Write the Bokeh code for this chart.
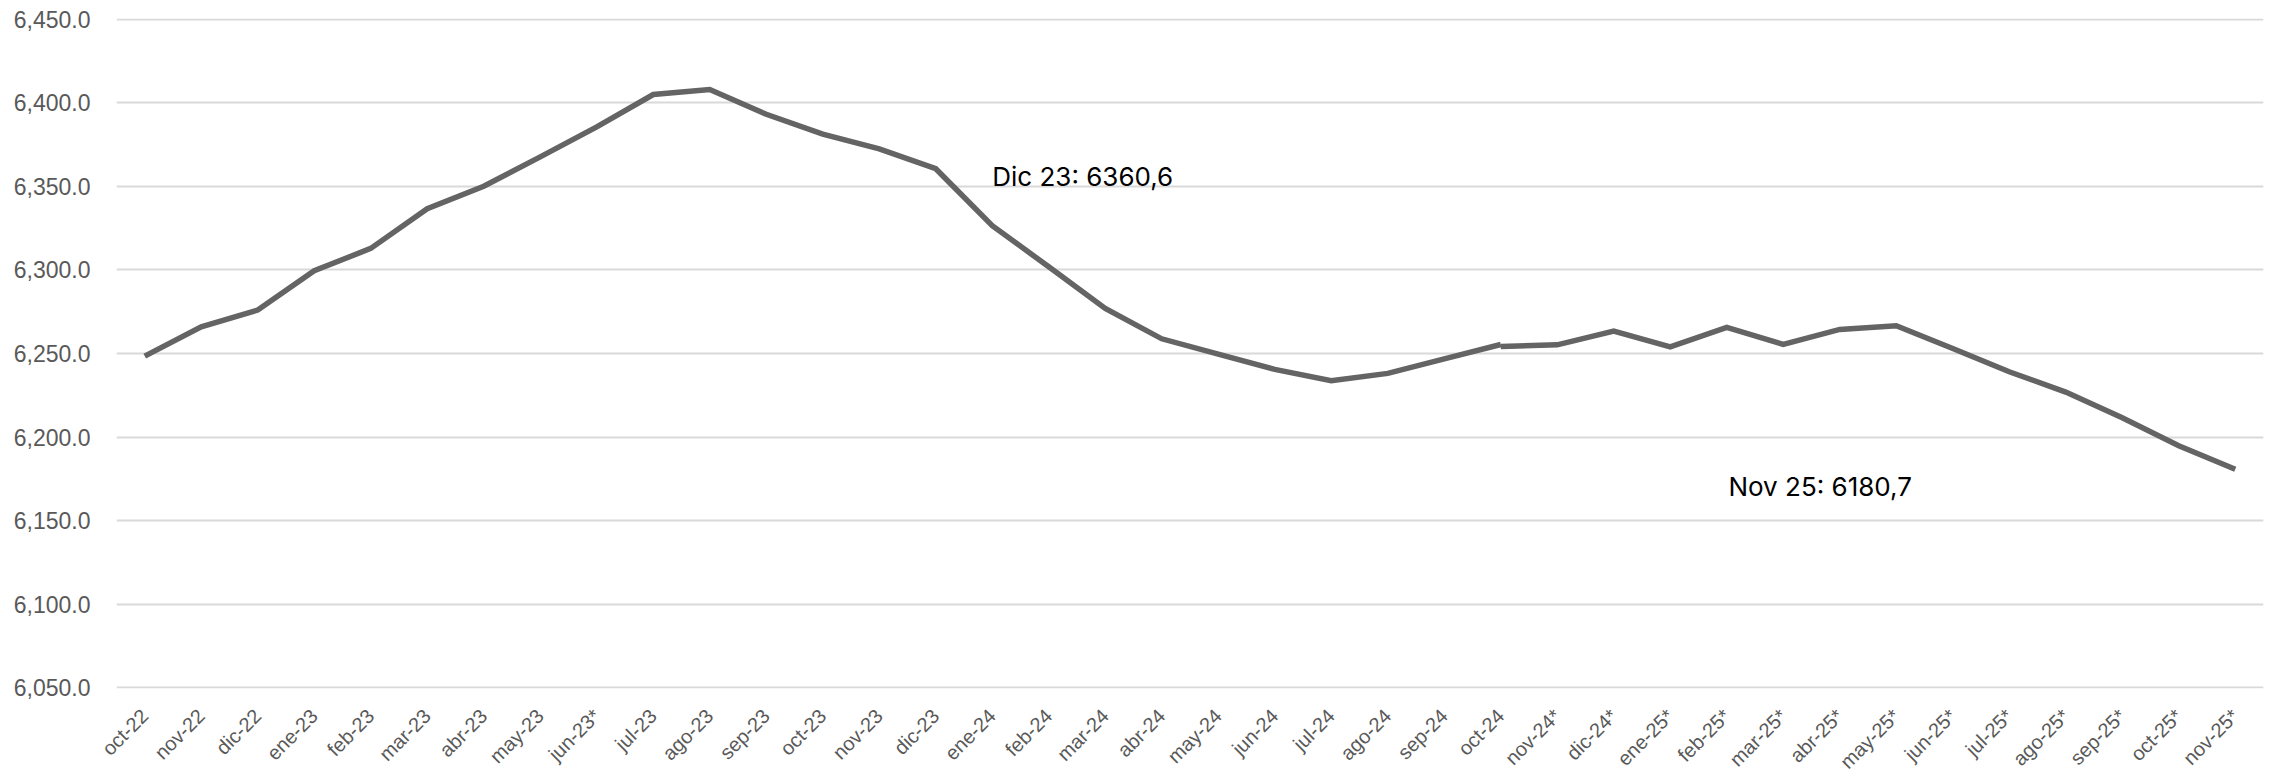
import math

from bokeh.embed import file_html
from bokeh.models import (ColumnDataSource, FactorRange, Label, NumeralTickFormatter,
                          Range1d, SingleIntervalTicker)
from bokeh.plotting import figure
from bokeh.resources import INLINE

# Meses (las marcadas con * son estimaciones)
meses = ["oct-22", "nov-22", "dic-22", "ene-23", "feb-23", "mar-23", "abr-23", "may-23",
         "jun-23*", "jul-23", "ago-23", "sep-23", "oct-23", "nov-23", "dic-23", "ene-24",
         "feb-24", "mar-24", "abr-24", "may-24", "jun-24", "jul-24", "ago-24", "sep-24",
         "oct-24", "nov-24*", "dic-24*", "ene-25*", "feb-25*", "mar-25*", "abr-25*",
         "may-25*", "jun-25*", "jul-25*", "ago-25*", "sep-25*", "oct-25*", "nov-25*"]

# Tramo observado: oct-22 a oct-24
meses_obs = meses[:25]
valores_obs = [6248.4, 6266.0, 6276.0, 6299.5, 6312.9, 6336.6, 6350.1, 6367.7,
               6385.6, 6405.0, 6408.0, 6393.2, 6381.3, 6372.5, 6360.6, 6326.5,
               6301.9, 6277.0, 6258.8, 6249.6, 6240.5, 6233.7, 6238.1, 6246.8,
               6255.4]

# Tramo estimado: oct-24 a nov-25
meses_est = meses[24:]
valores_est = [6254.2, 6255.2, 6263.4, 6254.0, 6265.6, 6255.4, 6264.4, 6266.6,
               6253.0, 6239.1, 6226.9, 6211.5, 6194.8, 6180.7]

y_min, y_max, y_paso = 6050, 6450, 50

LINE = "#646464"
GRID = "#d9d9d9"
TICK_TXT = "#595959"
FONT_AX = "Liberation Sans"
FONT_NOTE = "Inter"

p = figure(frame_width=2147, frame_height=670,
           x_range=FactorRange(*meses, range_padding=0),
           y_range=Range1d(y_min - 0.5, y_max + 0.5),
           output_backend="svg", toolbar_location=None,
           min_border_left=116, min_border_right=7,
           min_border_top=18, min_border_bottom=90)
p.outline_line_color = None
p.background_fill_color = "white"
p.border_fill_color = "white"

p.xgrid.grid_line_color = None
p.ygrid.grid_line_color = GRID
p.ygrid.grid_line_width = 2

p.yaxis.ticker = SingleIntervalTicker(interval=y_paso)
p.yaxis.formatter = NumeralTickFormatter(format="0,0.0")
for ax in (p.xaxis, p.yaxis):
    ax.axis_line_color = None
    ax.major_tick_line_color = None
    ax.minor_tick_line_color = None
    ax.major_tick_out = 0
    ax.major_tick_in = 0
    ax.major_label_text_color = TICK_TXT
    ax.major_label_text_font = FONT_AX
p.yaxis.major_label_text_font_size = "23px"
p.xaxis.major_label_text_font_size = "20px"
p.yaxis.major_label_standoff = 22
p.xaxis.major_label_standoff = 24
p.xaxis.major_label_orientation = math.pi / 4

src_obs = ColumnDataSource(dict(mes=meses_obs, valor=valores_obs))
src_est = ColumnDataSource(dict(mes=meses_est, valor=valores_est))
p.line("mes", "valor", source=src_obs, line_color=LINE, line_width=5.5, line_join="miter")
p.line("mes", "valor", source=src_est, line_color=LINE, line_width=5.5, line_join="miter")


def fmt(v):
    return f"{v:.1f}".replace(".", ",")


nota_dic = Label(x=15.5, y=6356.0,
                 text=f"Dic 23: {fmt(valores_obs[meses.index('dic-23')])}",
                 text_font=FONT_NOTE, text_font_size="26px", text_color="black",
                 text_baseline="alphabetic", text_align="left")
nota_nov = Label(x=28.53, y=6170.3,
                 text=f"Nov 25: {fmt(valores_est[-1])}",
                 text_font=FONT_NOTE, text_font_size="26px", text_color="black",
                 text_baseline="alphabetic", text_align="left")
p.add_layout(nota_dic)
p.add_layout(nota_nov)

open("out.html", "w").write(file_html(p, INLINE))
